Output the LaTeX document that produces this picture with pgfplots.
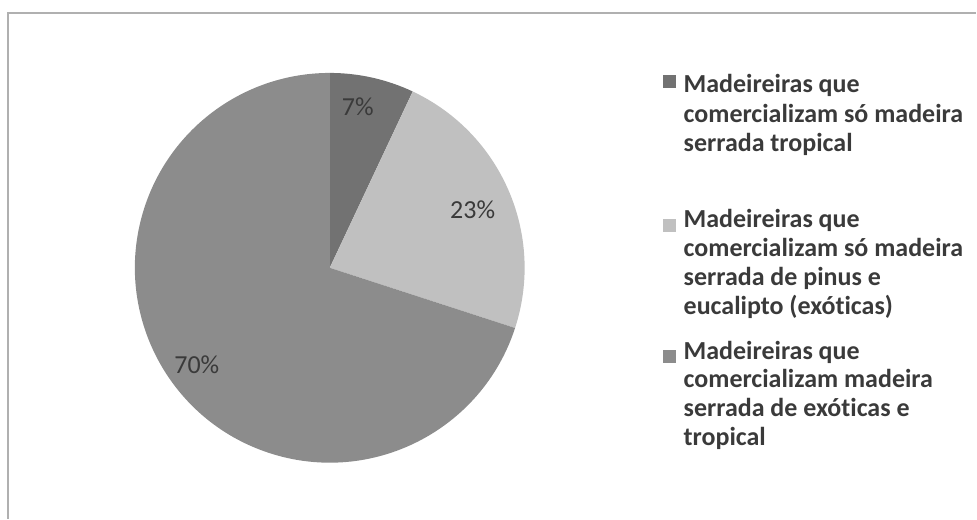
\documentclass[border=0pt]{standalone}
\usepackage{pgfplots}
\pgfplotsset{compat=1.18}
\usepackage{fontspec}
\setmainfont{Carlito}[Ligatures=NoCommon]
\definecolor{cDark}{HTML}{727272}
\definecolor{cLight}{HTML}{C0C0C0}
\definecolor{cMid}{HTML}{8C8C8C}
\definecolor{cText}{HTML}{3A3A3A}
\definecolor{cFrame}{HTML}{B0B0B0}
\begin{document}
\begin{tikzpicture}
% shares (percent), clockwise from 12 o'clock
\def\vA{7}\def\vB{23}\def\vC{70}
\pgfmathsetmacro\aA{90}
\pgfmathsetmacro\aB{\aA-3.6*\vA}
\pgfmathsetmacro\aC{\aB-3.6*\vB}
\pgfmathsetmacro\aD{\aC-3.6*\vC}
\begin{axis}[x=1pt, y=1pt, xmin=0, xmax=977, ymin=0, ymax=519,
  hide axis, scale only axis, clip=false]
\path (axis cs:0,0) rectangle (axis cs:977,519);
\draw[cFrame, line width=1.5pt] (axis cs:8,0) -- (axis cs:8,506) -- (axis cs:977,506);
% pie
\fill[cDark] (axis cs:330,251) -- ++(\aA:195pt) arc[start angle=\aA, end angle=\aB, radius=195pt] -- cycle;
\fill[cLight] (axis cs:330,251) -- ++(\aB:195pt) arc[start angle=\aB, end angle=\aC, radius=195pt] -- cycle;
\fill[cMid] (axis cs:330,251) -- ++(\aC:195pt) arc[start angle=\aC, end angle=\aD, radius=195pt] -- cycle;
% data labels
\node[text=cText, font=\fontsize{26}{30}\selectfont] at (axis cs:358,412) {\vA\%};
\node[text=cText, font=\fontsize{26}{30}\selectfont] at (axis cs:473,309) {\vB\%};
\node[text=cText, font=\fontsize{26}{30}\selectfont] at (axis cs:197,154) {\vC\%};
% legend
\fill[cDark] (axis cs:664,431) rectangle (axis cs:677,444);
\fill[cLight] (axis cs:664,287) rectangle (axis cs:677,300);
\fill[cMid] (axis cs:664,156) rectangle (axis cs:677,169);
\begin{scope}[every node/.style={anchor=base west, inner sep=0pt, text=cText, font=\bfseries\fontsize{26}{30}\selectfont}]
\node at (axis cs:684,426) {Madeireiras que};
\node at (axis cs:684,396) {comercializam só madeira};
\node at (axis cs:684,367) {serrada tropical};
\node at (axis cs:684,291) {Madeireiras que};
\node at (axis cs:684,262) {comercializam só madeira};
\node at (axis cs:684,233) {serrada de pinus e};
\node at (axis cs:684,204) {eucalipto (exóticas)};
\node at (axis cs:684,159) {Madeireiras que};
\node at (axis cs:684,131) {comercializam madeira};
\node at (axis cs:684,102) {serrada de exóticas e};
\node at (axis cs:684,73) {tropical};
\end{scope}
\end{axis}
\end{tikzpicture}
\end{document}
